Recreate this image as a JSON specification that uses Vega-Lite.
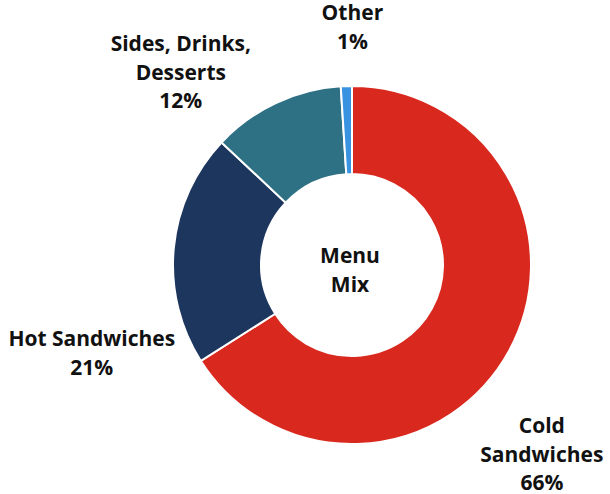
{
  "$schema": "https://vega.github.io/schema/vega-lite/v6.json",
  "width": 516,
  "height": 458,
  "autosize": "none",
  "padding": {"left": 94, "top": 36, "right": 0, "bottom": 0},
  "background": "white",
  "config": {
    "view": {"stroke": null},
    "text": {"font": "Open Sans", "fontWeight": "bold", "fontSize": 21, "lineHeight": 28.5, "lineBreak": "\n", "align": "center", "baseline": "middle", "color": "#111111"}
  },
  "data": {
    "values": [
      {"category": "Cold Sandwiches", "share": 66, "order": 1, "label": "Cold\nSandwiches\n66%"},
      {"category": "Hot Sandwiches", "share": 21, "order": 2, "label": "Hot Sandwiches\n21%"},
      {"category": "Sides, Drinks, Desserts", "share": 12, "order": 3, "label": "Sides, Drinks,\nDesserts\n12%"},
      {"category": "Other", "share": 1, "order": 4, "label": "Other\n1%"}
    ]
  },
  "encoding": {
    "theta": {"field": "share", "type": "quantitative", "stack": true},
    "order": {"field": "order", "type": "quantitative", "sort": "ascending"}
  },
  "layer": [
    {
      "mark": {"type": "arc", "outerRadius": 179, "innerRadius": 91, "stroke": "white", "strokeWidth": 2},
      "encoding": {
        "color": {
          "field": "category",
          "type": "nominal",
          "legend": null,
          "scale": {
            "domain": ["Cold Sandwiches", "Hot Sandwiches", "Sides, Drinks, Desserts", "Other"],
            "range": ["#D9281E", "#1D365E", "#2E7185", "#3A93E0"]
          }
        }
      }
    },
    {
      "mark": {"type": "text", "radius": 179, "dx": 33, "dy": 76},
      "encoding": {"text": {"condition": {"test": "datum.category === 'Cold Sandwiches'", "field": "label"}, "value": ""}}
    },
    {
      "mark": {"type": "text", "radius": 179, "dx": -82, "dy": 92},
      "encoding": {"text": {"condition": {"test": "datum.category === 'Hot Sandwiches'", "field": "label"}, "value": ""}}
    },
    {
      "mark": {"type": "text", "radius": 179, "dx": -95, "dy": -58},
      "encoding": {"text": {"condition": {"test": "datum.category === 'Sides, Drinks, Desserts'", "field": "label"}, "value": ""}}
    },
    {
      "mark": {"type": "text", "radius": 179, "dx": 6, "dy": -72},
      "encoding": {"text": {"condition": {"test": "datum.category === 'Other'", "field": "label"}, "value": ""}}
    },
    {
      "data": {"values": [{"title": "Menu\nMix"}]},
      "mark": {"type": "text", "dx": -2, "dy": -8},
      "encoding": {"theta": null, "order": null, "text": {"field": "title"}}
    }
  ]
}
